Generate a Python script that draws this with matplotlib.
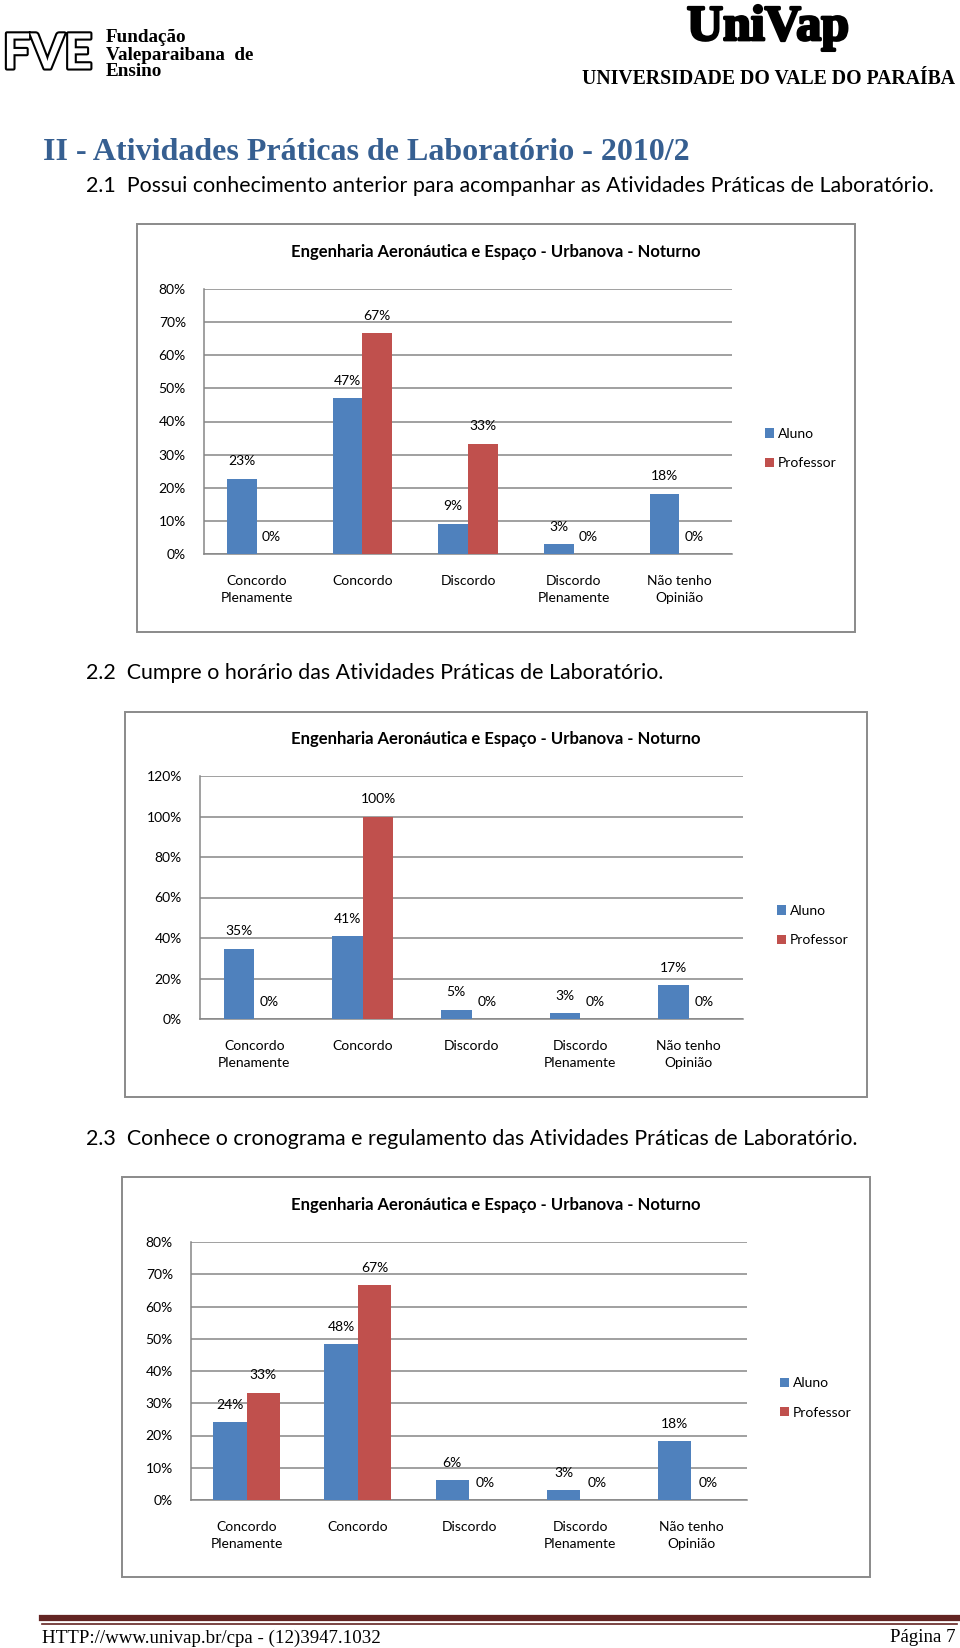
import numpy as np
import matplotlib
matplotlib.use("Agg")
import matplotlib.pyplot as plt
from matplotlib.patches import Rectangle
import matplotlib.patheffects as pe

W, H = 960, 1648
BLUE = "#4F81BD"
RED = "#C0504D"
GRID = "#868686"
HEAD = "#365F91"
SANS = ["Lato", "DejaVu Sans"]
SERIF = ["Liberation Serif", "DejaVu Serif"]

categories = ["Concordo\nPlenamente", "Concordo", "Discordo", "Discordo\nPlenamente", "Não tenho\nOpinião"]
series_names = ["Aluno", "Professor"]
chart_title = "Engenharia Aeronáutica e Espaço - Urbanova - Noturno"

# values in %
q1_aluno = [22.7, 47.1, 9.1, 3.0, 18.2]
q1_professor = [0, 66.7, 33.3, 0, 0]
q2_aluno = [34.8, 40.9, 4.6, 3.0, 16.7]
q2_professor = [0, 100, 0, 0, 0]
q3_aluno = [24.2, 48.4, 6.1, 3.0, 18.2]
q3_professor = [33.3, 66.7, 0, 0, 0]

heading = "II - Atividades Práticas de Laboratório - 2010/2"
questions = [
    "2.1  Possui conhecimento anterior para acompanhar as Atividades Práticas de Laboratório.",
    "2.2  Cumpre o horário das Atividades Práticas de Laboratório.",
    "2.3  Conhece o cronograma e regulamento das Atividades Práticas de Laboratório.",
]
footer_left = "HTTP://www.univap.br/cpa - (12)3947.1032"
footer_right = "Página 7"


def fxy(x, y):
    # page pixels (from top-left) -> figure fraction
    return x / W, 1 - y / H


def add_chart(fig, box, plot, aluno, professor, ymax, ystep, bar_w, title_y, legend_xy):
    bx0, by0, bx1, by1 = box
    fig.patches.append(Rectangle(fxy(bx0, by1), (bx1 - bx0) / W, (by1 - by0) / H,
                                 transform=fig.transFigure, fill=False,
                                 edgecolor="#8a8a8a", linewidth=1.4))
    fig.text(*fxy((bx0 + bx1) / 2, title_y), chart_title, ha="center", va="center",
             fontsize=12, fontweight="bold", family=SANS)

    px0, py0, px1, py1 = plot
    ax = fig.add_axes([px0 / W, 1 - py1 / H, (px1 - px0) / W, (py1 - py0) / H])
    x = np.arange(len(categories))
    b1 = ax.bar(x - bar_w / 2, aluno, bar_w, color=BLUE, label=series_names[0], zorder=3)
    b2 = ax.bar(x + bar_w / 2, professor, bar_w, color=RED, label=series_names[1], zorder=3)
    for bars in (b1, b2):
        for rect in bars:
            v = rect.get_height()
            ax.annotate(f"{v:.0f}%", (rect.get_x() + rect.get_width() / 2, v),
                        xytext=(0, 12.5), textcoords="offset points",
                        ha="center", va="center", fontsize=10, family=SANS)

    ax.set_xlim(-0.5, len(categories) - 0.5)
    ax.set_ylim(0, ymax)
    yt = np.arange(0, ymax + 1, ystep)
    ax.set_yticks(yt)
    ax.set_yticklabels([f"{v:.0f}%" for v in yt], family=SANS, fontsize=10)
    ax.set_xticks(x)
    ax.set_xticklabels(categories, family=SANS, fontsize=10, linespacing=1.55)
    ax.tick_params(length=0)
    ax.tick_params(axis="y", pad=13)
    ax.tick_params(axis="x", pad=15)
    ax.yaxis.grid(True, color=GRID, linewidth=1.1)
    ax.set_axisbelow(True)
    for s in ("top", "right"):
        ax.spines[s].set_visible(False)
    for s in ("left", "bottom"):
        ax.spines[s].set_color(GRID)
        ax.spines[s].set_linewidth(1.1)
    ax.set_facecolor("none")

    fig.legend(handles=[b1, b2], loc="center left", bbox_to_anchor=fxy(*legend_xy),
               frameon=False, prop={"family": SANS, "size": 10},
               handlelength=0.65, handleheight=0.65, handletextpad=0.3,
               labelspacing=1.25, borderpad=0, borderaxespad=0)
    return ax


def draw_page(fig):
    # header left: FVE logo + foundation name
    fig.text(*fxy(3, 54), "FVE", ha="left", va="center", fontsize=35, fontweight="bold",
             family=SANS, color="white",
             path_effects=[pe.withStroke(linewidth=3, foreground="black")])
    for y, t in zip([37, 55, 72], ["Fundação", "Valeparaibana  de", "Ensino"]):
        fig.text(*fxy(106, y), t, ha="left", va="center", fontsize=13.8,
                 fontweight="bold", family=SERIF)

    # header right: UniVap logo + university name
    fig.text(*fxy(768, 28), "UniVap", ha="center", va="center", fontsize=36,
             fontweight="bold", family=SERIF, color="black",
             path_effects=[pe.withStroke(linewidth=2, foreground="black")])
    fig.text(*fxy(955, 79), "UNIVERSIDADE DO VALE DO PARAÍBA", ha="right", va="center",
             fontsize=14.2, fontweight="bold", family=SERIF)

    fig.text(*fxy(43, 152), heading, ha="left", va="center", fontsize=23,
             fontweight="bold", family=SERIF, color=HEAD)
    for y, t in zip([186, 673, 1139], questions):
        fig.text(*fxy(86, y), t, ha="left", va="center", fontsize=15.4, family=SANS)

    # footer
    fig.add_artist(plt.Line2D([42 / W, 957 / W], [1 - 1618 / H] * 2, color="#632523",
                              linewidth=4.5, transform=fig.transFigure))
    fig.add_artist(plt.Line2D([42 / W, 957 / W], [1 - 1624 / H] * 2, color="#632523",
                              linewidth=1.2, transform=fig.transFigure))
    fig.text(*fxy(42, 1638), footer_left, ha="left", va="center", fontsize=13.6, family=SERIF)
    fig.text(*fxy(955, 1638), footer_right, ha="right", va="center", fontsize=13.6, family=SERIF)


def main():
    fig = plt.figure(figsize=(W / 100, H / 100), dpi=100)
    fig.patch.set_facecolor("white")
    draw_page(fig)

    add_chart(fig, (137, 224, 855, 632), (204, 289, 732, 554),
              q1_aluno, q1_professor, 80, 10, 0.28, 252, (765, 448.5))
    add_chart(fig, (125, 712, 867, 1097), (200, 776, 743, 1019),
              q2_aluno, q2_professor, 120, 20, 0.28, 739, (777, 925.5))
    add_chart(fig, (122, 1177, 870, 1577), (191, 1242, 747, 1500),
              q3_aluno, q3_professor, 80, 10, 0.30, 1205, (780, 1398))

    fig.savefig("out.png", dpi=100)


if __name__ == "__main__":
    main()
